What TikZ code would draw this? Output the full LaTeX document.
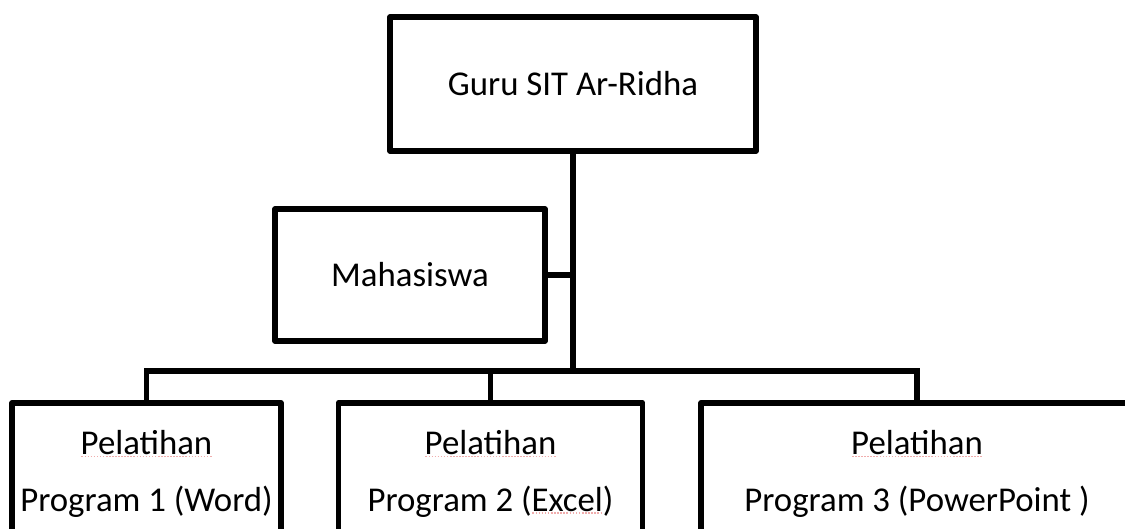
\documentclass[tikz,border=0pt]{standalone}
\usepackage{fontspec}
\setmainfont{Carlito}
\definecolor{sqred}{rgb}{0.94,0.68,0.68}
\newcommand\sqline[1]{\setbox0\hbox{#1}\rlap{\raisebox{-2.5pt}[0pt][0pt]{\color{sqred}\hbox to \wd0{\xleaders\hbox to 3pt{\hss\vrule width 1.6pt height 1.1pt\hss}\hfill}}}#1}
\begin{document}
\begin{tikzpicture}[x=1pt,y=-1pt,
  orgbox/.style={draw=black,line width=5.5pt,line join=round,inner sep=0pt,
    align=center,font=\fontsize{34.8}{56.5}\selectfont},
  link/.style={draw=black,line width=5.5pt}]
\useasboundingbox (0,0) rectangle (1125,529);
\clip (0,0) rectangle (1125,529);
\node[orgbox,minimum width=366pt,minimum height=134pt] (guru) at (573,84) {Guru SIT Ar-Ridha};
\node[orgbox,minimum width=270pt,minimum height=132pt] (maha) at (410,275) {Mahasiswa};
\node[orgbox,minimum width=269pt,minimum height=142pt,anchor=north] (p1) at (146.5,400) {\sqline{Pelatihan}\\Program 1 (Word)};
\node[orgbox,minimum width=304pt,minimum height=142pt,anchor=north] (p2) at (490.5,400) {\sqline{Pelatihan}\\Program 2 (\sqline{Excel})};
\node[orgbox,minimum width=432pt,minimum height=142pt,anchor=north] (p3) at (917,400) {\sqline{Pelatihan}\\Program 3 (PowerPoint )};
\coordinate (j) at (573,371);
\draw[link] (guru.south) -- (j);
\draw[link] (maha.east) -- (maha.east -| guru.south);
\draw[link] (p1.north) |- (j) -| (p3.north);
\draw[link] (p2.north) -- (p2.north |- j);
\end{tikzpicture}
\end{document}
